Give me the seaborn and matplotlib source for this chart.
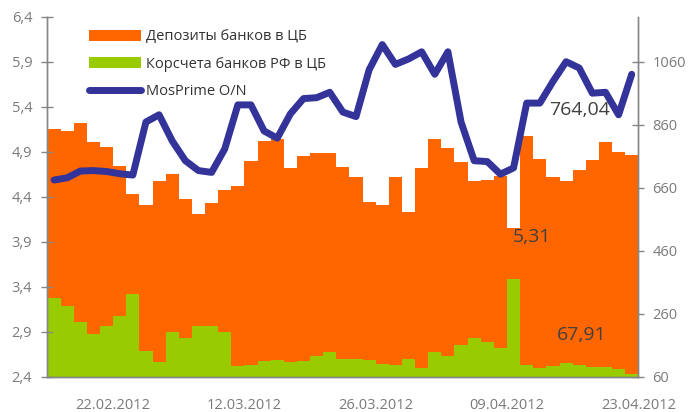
import numpy as np
import matplotlib
matplotlib.use('Agg')
import matplotlib.pyplot as plt
import seaborn as sns

# business days from 16.02.2012 to 23.04.2012 (one bar per day)
days = np.arange(45)
tick_labels = ['', '22.02.2012', '', '12.03.2012', '', '26.03.2012', '', '09.04.2012', '', '23.04.2012']

# Депозиты банков в ЦБ, млрд руб. (right axis)
deposits = [846, 840, 865, 806, 789, 729, 640, 605, 682, 704,
            625, 577, 610, 653, 665, 746, 808, 814, 723, 761,
            771, 771, 726, 694, 614, 605, 694, 583, 723, 815,
            786, 742, 682, 684, 698, 531, 825, 751, 694, 682,
            716, 748, 805, 774, 764.04]
# Корсчета банков РФ в ЦБ, млрд руб. (right axis)
corr_accounts = [310, 284, 234, 195, 221, 253, 323, 142, 108, 203,
                 184, 221, 221, 202, 95, 97, 110, 113, 108, 111,
                 127, 138, 117, 117, 112, 100, 97, 116, 89, 138,
                 126, 161, 184, 171, 150, 370, 97, 87, 95, 104,
                 97, 92, 92, 84, 67.91]
# MosPrime O/N, % (left axis)
mosprime = [4.585, 4.61, 4.685, 4.69, 4.68, 4.655, 4.64, 5.23, 5.31, 5.02,
            4.80, 4.69, 4.67, 4.93, 5.42, 5.42, 5.13, 5.05, 5.32, 5.49,
            5.50, 5.56, 5.34, 5.29, 5.81, 6.09, 5.87, 5.93, 6.01, 5.76,
            6.01, 5.23, 4.80, 4.79, 4.65, 4.72, 5.44, 5.44, 5.68, 5.90,
            5.83, 5.55, 5.56, 5.31, 5.76]

sns.set_style('white')
plt.rcParams['font.family'] = ['Open Sans', 'DejaVu Sans']

grey = '#868686'
fig = plt.figure(figsize=(6.89, 4.12), dpi=100)
ax = fig.add_axes([0.0689, 0.0857, 0.9264 - 0.0689, 0.9595 - 0.0857])

sns.barplot(x=days, y=deposits, color='#FF6600', saturation=1, width=1,
            linewidth=0, ax=ax, label='Депозиты банков в ЦБ')
sns.barplot(x=days, y=corr_accounts, color='#99CC00', saturation=1, width=1,
            linewidth=0, ax=ax, label='Корсчета банков РФ в ЦБ')

ax2 = ax.twinx()
sns.lineplot(x=days, y=mosprime, color='#333399', linewidth=5, ax=ax2,
             label='MosPrime O/N', solid_capstyle='round', solid_joinstyle='round')

# bars -> right axis, line -> left axis
ax.yaxis.tick_right()
ax2.yaxis.tick_left()
ax.set_xlim(-0.5, 44.5)
ax.set_ylim(60, 60 + 360 * 200 / 63)
ax.set_yticks([60, 260, 460, 660, 860, 1060])
ax.set_yticklabels(['60', '260', '460', '660', '860', '1060'])
ax2.set_ylim(2.4, 6.4)
lt = np.arange(2.4, 6.41, 0.5)
ax2.set_yticks(lt)
ax2.set_yticklabels([f'{v:.1f}'.replace('.', ',') for v in lt])
ax.set_xticks(np.arange(-0.5, 45, 5))
ax.set_xticklabels(tick_labels)

for a in (ax, ax2):
    a.set_xlabel('')
    a.set_ylabel('')
    a.spines['top'].set_visible(False)
    for s in ('left', 'right', 'bottom'):
        a.spines[s].set_color(grey)
        a.spines[s].set_linewidth(1)
    a.tick_params(colors=grey, labelcolor='#7a7a7a', labelsize=10.5, width=1)
ax.tick_params(axis='x', direction='out', length=6, pad=9)
ax.tick_params(axis='y', direction='inout', length=8, pad=6)
ax2.tick_params(axis='y', direction='inout', length=8, pad=7)

if ax.get_legend():
    ax.get_legend().remove()
h1, l1 = ax.get_legend_handles_labels()
h2, l2 = ax2.get_legend_handles_labels()
leg = ax2.legend(h1 + h2, l1 + l2, loc='upper left', bbox_to_anchor=(0.07, 0.965),
                 frameon=False, fontsize=10.5, handlelength=3.6, handleheight=0.75,
                 labelspacing=0.85, handletextpad=0.3, borderpad=0, borderaxespad=0)
for t in leg.get_texts():
    t.set_color('#333333')

for x, y, s in [(40.0, 907, '764,04'), (36.4, 505, '5,31'), (40.2, 192, '67,91')]:
    ax2.text(x, y, s, transform=ax.transData, ha='center', va='center',
             fontsize=14, color='#404040')

fig.savefig('out.png', dpi=100)
